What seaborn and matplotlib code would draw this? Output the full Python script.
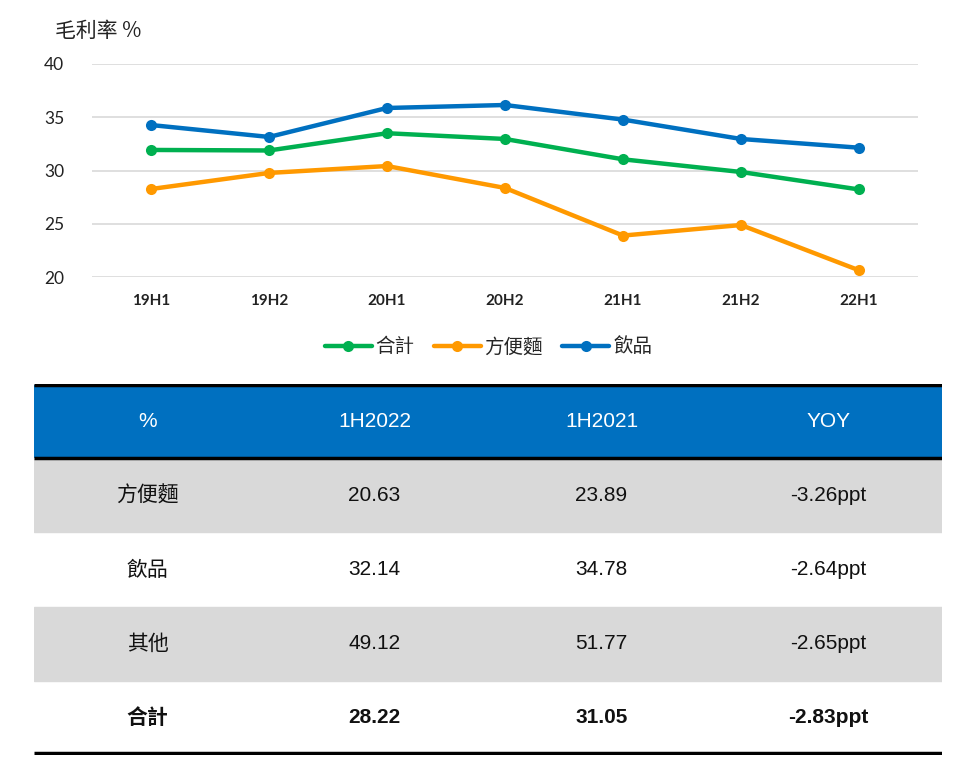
import seaborn as sns
import pandas as pd
import matplotlib.pyplot as plt
from matplotlib.patches import Rectangle

periods = ["19H1", "19H2", "20H1", "20H2", "21H1", "21H2", "22H1"]
total = [31.93, 31.88, 33.50, 32.96, 31.05, 29.86, 28.22]
noodles = [28.26, 29.77, 30.42, 28.36, 23.89, 24.88, 20.63]
drinks = [34.27, 33.15, 35.87, 36.15, 34.78, 32.96, 32.14]

header = ["%", "1H2022", "1H2021", "YOY"]
row_names = ["方便麵", "飲品", "其他", "合計"]
col_2022 = ["20.63", "32.14", "49.12", "28.22"]
col_2021 = ["23.89", "34.78", "51.77", "31.05"]
col_yoy = ["-3.26ppt", "-2.64ppt", "-2.65ppt", "-2.83ppt"]

df = pd.DataFrame({"period": periods, "合計": total, "方便麵": noodles, "飲品": drinks})
long_df = df.melt(id_vars="period", var_name="series", value_name="value")

sns.set_theme(style="white")
plt.rcParams['font.family'] = ['Noto Sans CJK TC', 'DejaVu Sans']

palette = {"合計": "#00b050", "方便麵": "#ff9900", "飲品": "#0070c0"}

fig = plt.figure(figsize=(9.72, 7.57), dpi=100)
W, H = 972, 757
ax = fig.add_axes([92 / W, 1 - 277 / H, (918 - 92) / W, (277 - 64) / H])

sns.lineplot(data=long_df, x="period", y="value", hue="series", palette=palette,
             marker="o", markersize=8, markeredgewidth=0, linewidth=3.2, ax=ax, sort=False)
ax.set_xlim(-0.5, 6.5)
ax.set_ylim(20, 40)
ax.set_yticks([20, 25, 30, 35, 40])
ax.yaxis.grid(True, color="#d9d9d9", linewidth=1.2)
for s in ax.spines.values():
    s.set_visible(False)
ax.set_xlabel("")
ax.set_ylabel("")
ax.tick_params(axis="y", length=0, pad=20, labelsize=12.5, labelcolor="#222222")
ax.tick_params(axis="x", length=0, pad=12, labelsize=11, labelcolor="#222222")
for t in ax.get_yticklabels():
    t.set_family(['Lato', 'DejaVu Sans'])
for t in ax.get_xticklabels():
    t.set_family(['Lato', 'DejaVu Sans'])
    t.set_fontweight("bold")
ax.text(55 / W, 1 - 31 / H, "毛利率 %", transform=fig.transFigure, fontsize=15,
        va="center", ha="left", color="#222222")
leg = ax.legend(loc="center", bbox_to_anchor=(0.48, (277 - 347) / (277 - 64)), ncol=3,
                frameon=False, fontsize=14, handlelength=2.4, columnspacing=1.0,
                handletextpad=0.2)

# table
tax = fig.add_axes([34 / W, 1 - 755 / H, (942 - 34) / W, (755 - 384) / H])
tax.set_xlim(0, 4)
tax.set_ylim(4.0, -1.0)
tax.axis("off")
tax.add_patch(Rectangle((0, -0.98), 4, 0.98, color="#0070c0", zorder=1))
for i, row in enumerate(row_names):
    if i % 2 == 0:
        tax.add_patch(Rectangle((0, i), 4, 1, color="#d9d9d9", zorder=1))
tax.plot([0, 4], [-0.98, -0.98], color="black", linewidth=2.5, zorder=3, solid_capstyle="butt")
tax.plot([0, 4], [0, 0], color="black", linewidth=2.5, zorder=3, solid_capstyle="butt")
tax.plot([0, 4], [3.97, 3.97], color="black", linewidth=2.5, zorder=3, solid_capstyle="butt")

for j, h in enumerate(header):
    tax.text(j + 0.5, -0.5, h, ha="center", va="center", color="white",
             fontsize=15, family=['Liberation Sans', 'DejaVu Sans'], zorder=4)
cols = [row_names, col_2022, col_2021, col_yoy]
for j, col in enumerate(cols):
    for i, v in enumerate(col):
        bold = i == len(row_names) - 1
        fam = ['Noto Sans CJK TC', 'DejaVu Sans'] if j == 0 else ['Liberation Sans', 'DejaVu Sans']
        tax.text(j + 0.5, i + 0.5, v, ha="center", va="center", color="#111111",
                 fontsize=15, family=fam, fontweight="bold" if bold else "normal", zorder=4)

plt.savefig("out.png", dpi=100)
